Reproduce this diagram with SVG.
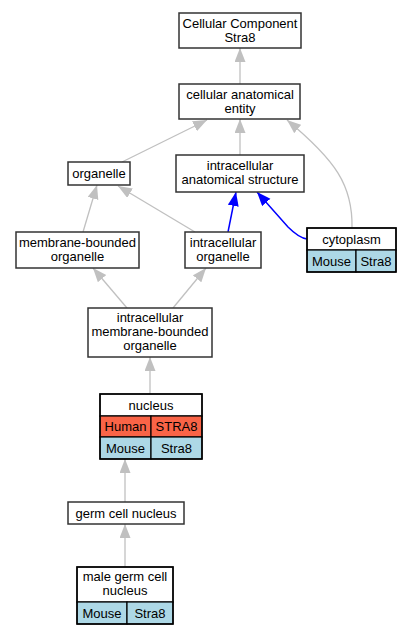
<svg xmlns="http://www.w3.org/2000/svg" width="411" height="635" viewBox="0 0 411 635">
<style>
.box{fill:#fff;stroke:#333;stroke-width:1.5}
.hum{fill:#f96447;stroke:#000;stroke-width:1.2}
.mou{fill:#add8e6;stroke:#000;stroke-width:1.2}
text{font-family:"Liberation Sans",Arial,sans-serif;font-size:13px;fill:#000;text-anchor:middle}
.e{fill:none;stroke:#c0c0c0;stroke-width:1.3}
.b{fill:none;stroke:#0000ff;stroke-width:1.5}
</style>
<defs>
<marker id="ag" markerUnits="userSpaceOnUse" markerWidth="15" markerHeight="12" refX="14" refY="5.5" orient="auto"><path d="M0,0 L14,5.5 L0,11 z" fill="#c0c0c0"/></marker>
<marker id="ab" markerUnits="userSpaceOnUse" markerWidth="15" markerHeight="12" refX="14" refY="5.5" orient="auto"><path d="M0,0 L14,5.5 L0,11 z" fill="#0000ff"/></marker>
</defs>
<rect width="411" height="635" fill="#fff"/>
<g id="edges">
<path class="e" d="M240,84 L240,48" marker-end="url(#ag)"/>
<path class="e" d="M122,162 L207,120" marker-end="url(#ag)"/>
<path class="e" d="M240,155 L240,119" marker-end="url(#ag)"/>
<path class="e" d="M352,228 C353,185 335,160 287,120" marker-end="url(#ag)"/>
<path class="e" d="M83,232 L97,185" marker-end="url(#ag)"/>
<path class="e" d="M195,232 L118,186" marker-end="url(#ag)"/>
<path class="b" d="M228,232 L236,192" marker-end="url(#ab)"/>
<path class="b" d="M307,239 C300,238 295,234 288,227 L257,192" marker-end="url(#ab)"/>
<path class="e" d="M127,308 L93,268" marker-end="url(#ag)"/>
<path class="e" d="M173,308 L206,268" marker-end="url(#ag)"/>
<path class="e" d="M150,394 L150,357" marker-end="url(#ag)"/>
<path class="e" d="M125,502 L125,459" marker-end="url(#ag)"/>
<path class="e" d="M125,567 L125,524" marker-end="url(#ag)"/>
</g>
<g id="n_cc">
<rect class="box" x="179" y="13" width="122" height="35"/>
<text x="240" y="28">Cellular Component</text>
<text x="240" y="42">Stra8</text>
</g>
<g id="n_cae">
<rect class="box" x="179" y="84" width="121" height="35"/>
<text x="240" y="99">cellular anatomical</text>
<text x="240" y="113">entity</text>
</g>
<g id="n_ias">
<rect class="box" x="176" y="155" width="128" height="37"/>
<text x="240" y="170">intracellular</text>
<text x="240" y="184">anatomical structure</text>
</g>
<g id="n_org">
<rect class="box" x="68" y="162" width="62" height="23"/>
<text x="99" y="178">organelle</text>
</g>
<g id="n_mbo">
<rect class="box" x="16" y="232" width="123" height="36"/>
<text x="77.5" y="247">membrane-bounded</text>
<text x="77.5" y="261">organelle</text>
</g>
<g id="n_io">
<rect class="box" x="185" y="232" width="76" height="36"/>
<text x="223" y="247">intracellular</text>
<text x="223" y="261">organelle</text>
</g>
<g id="n_cyto">
<rect class="box" x="307" y="228" width="89" height="22"/>
<text x="351.5" y="243.5">cytoplasm</text>
<rect class="mou" x="307" y="250" width="49" height="22"/>
<rect class="mou" x="356" y="250" width="40" height="22"/>
<text x="331.5" y="265.5">Mouse</text>
<text x="376" y="265.5">Stra8</text>
<rect x="307" y="228" width="89" height="44" fill="none" stroke="#000" stroke-width="1.5"/>
</g>
<g id="n_imbo">
<rect class="box" x="88" y="308" width="124" height="49"/>
<text x="150" y="322">intracellular</text>
<text x="150" y="336">membrane-bounded</text>
<text x="150" y="350">organelle</text>
</g>
<g id="n_nuc">
<rect class="box" x="100" y="394" width="102" height="22"/>
<text x="151" y="409.5">nucleus</text>
<rect class="hum" x="100" y="416" width="51" height="21"/>
<rect class="hum" x="151" y="416" width="51" height="21"/>
<text x="125.5" y="431">Human</text>
<text x="176.5" y="431">STRA8</text>
<rect class="mou" x="100" y="437" width="51" height="22"/>
<rect class="mou" x="151" y="437" width="51" height="22"/>
<text x="125.5" y="452.5">Mouse</text>
<text x="176.5" y="452.5">Stra8</text>
<rect x="100" y="394" width="102" height="65" fill="none" stroke="#000" stroke-width="1.5"/>
</g>
<g id="n_gcn">
<rect class="box" x="68" y="502" width="116" height="22"/>
<text x="126" y="517.5">germ cell nucleus</text>
</g>
<g id="n_mgcn">
<rect class="box" x="77" y="567" width="96" height="35"/>
<text x="125" y="581">male germ cell</text>
<text x="125" y="595">nucleus</text>
<rect class="mou" x="77" y="602" width="50" height="22"/>
<rect class="mou" x="127" y="602" width="46" height="22"/>
<text x="102" y="617.5">Mouse</text>
<text x="150" y="617.5">Stra8</text>
<rect x="77" y="567" width="96" height="57" fill="none" stroke="#000" stroke-width="1.5"/>
</g>
</svg>
